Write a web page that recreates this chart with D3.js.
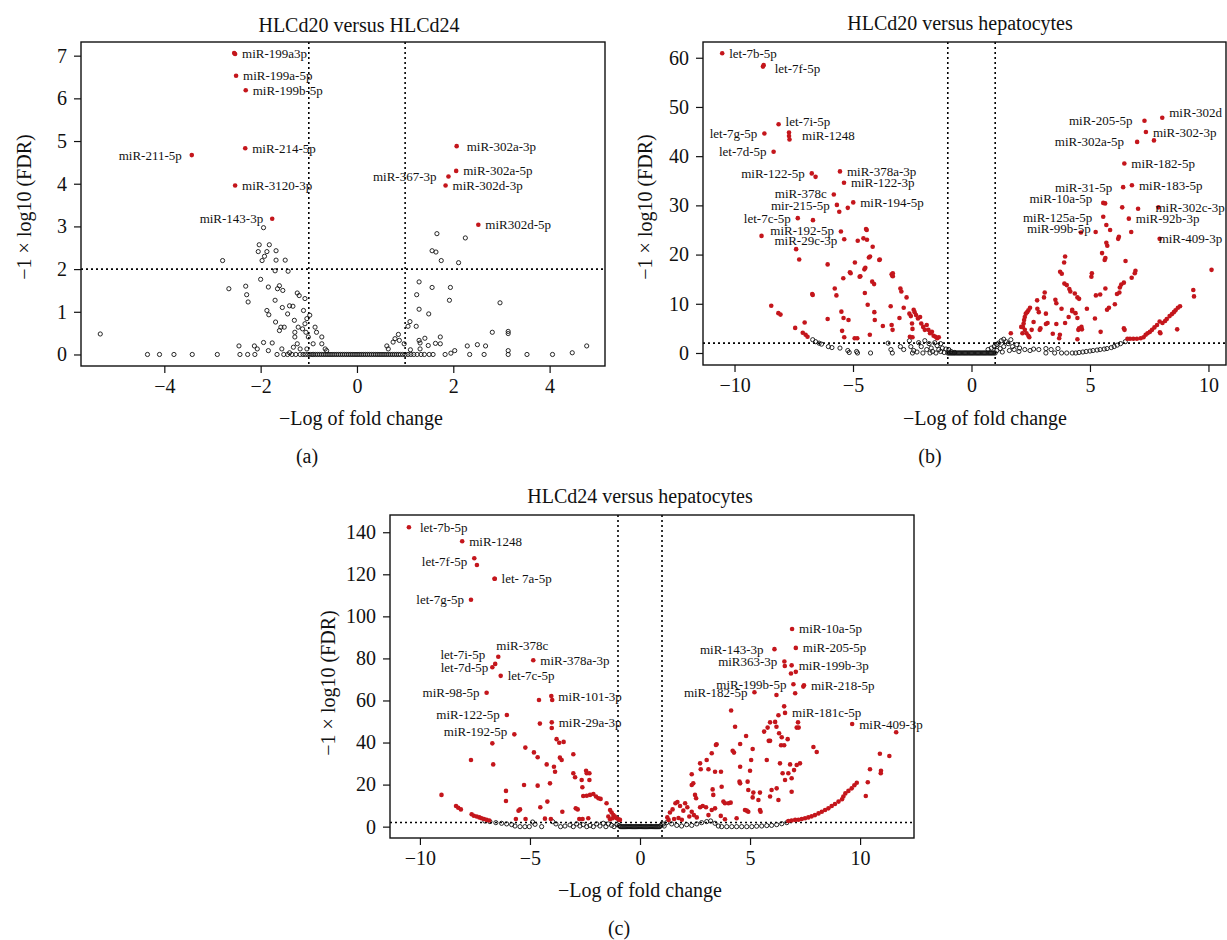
<!DOCTYPE html>
<html>
<head>
<meta charset="utf-8">
<script src="https://cdnjs.cloudflare.com/ajax/libs/d3/7.8.5/d3.min.js"></script>
<style>
  body { margin: 0; background: #fff; }
  text { font-family: "Liberation Serif", "DejaVu Serif", serif; fill: #111; }
</style>
</head>
<body>
<div id="chart"></div>
<script>
// TITLES / TEXT
var titles = ["HLCd20 versus HLCd24", "HLCd20 versus hepatocytes", "HLCd24 versus hepatocytes"];
var tags = ["(a)", "(b)", "(c)"];
var xTitle = "\u2212Log of fold change";
var yTitle = "\u22121 \u00d7 log10 (FDR)";

// TICKS
var aXTicks = [-4, -2, 0, 2, 4];
var aYTicks = [0, 1, 2, 3, 4, 5, 6, 7];
var bXTicks = [-10, -5, 0, 5, 10];
var bYTicks = [0, 10, 20, 30, 40, 50, 60];
var cXTicks = [-10, -5, 0, 5, 10];
var cYTicks = [0, 20, 40, 60, 80, 100, 120, 140];

// CUTOFFS (fold change +-1, FDR line at 2)
var fcCut = [-1, 1];
var fdrCut = 2;

// ---------- PANEL A : HLCd20 vs HLCd24 ----------
var aLabels = [
  ["miR-199a3p", -2.53, 7.04], ["miR-199a-5p", -2.51, 6.53], ["miR-199b-5p", -2.31, 6.19],
  ["miR-214-5p", -2.32, 4.83], ["miR-211-5p", -3.43, 4.67], ["miR-3120-3p", -2.53, 3.96],
  ["miR-143-3p", -1.76, 3.18], ["miR-302a-3p", 2.07, 4.88], ["miR-302a-5p", 2.06, 4.30],
  ["miR-367-3p", 1.90, 4.17], ["miR-302d-3p", 1.84, 3.96], ["miR302d-5p", 2.52, 3.04]
];
var aLeft = ["miR-211-5p", "miR-143-3p", "miR-367-3p"];
var aSig = [[-2.55, 7.06]];
var aNs = [
  [-5.33, 0.48], [-4.35, 0], [-4.10, 0], [-3.80, 0], [-3.42, 0], [-2.90, 0], [-2.79, 2.20],
  [-2.66, 1.54], [-2.45, 0.20], [-2.43, 0], [-2.31, 1.60], [-2.29, 1.40], [-2.26, 1.23],
  [-2.27, 0], [-2.13, 0.20], [-2.07, 0.13], [-2.12, 0], [-2.03, 2.57], [-2.05, 2.41],
  [-2.00, 1.76], [-1.97, 2.20], [-1.94, 2.97], [-1.92, 2.30], [-1.87, 2.41], [-1.82, 2.57],
  [-1.68, 2.43], [-1.68, 2.21], [-1.49, 2.21], [-1.43, 1.95], [-1.70, 1.96], [-1.84, 1.58],
  [-1.87, 1.03], [-1.83, 0.93], [-1.94, 0.28], [-1.84, 0.09], [-1.76, 0.27], [-1.70, 1.27],
  [-1.69, 0.76], [-1.65, 1.54], [-1.61, 1.61], [-1.54, 1.50], [-1.55, 1.10], [-1.61, 0.56],
  [-1.58, 0.64], [-1.51, 0.64], [-1.44, 0.95], [-1.40, 1.14], [-1.33, 1.13], [-1.24, 1.44],
  [-1.20, 1.38], [-1.08, 1.31], [-1.30, 0.80], [-1.22, 0.64], [-1.29, 0.52], [-1.29, 0.41],
  [-1.24, 0.25], [-1.11, 1.03], [-1.04, 0.84], [-1.08, 0.72], [-1.13, 0.60], [-1.06, 0.52],
  [-1.01, 0.41], [-0.98, 0.92], [-0.87, 0.64], [-0.84, 0.52], [-0.73, 0.41], [-0.73, 0.25],
  [-0.66, 0.13], [-0.63, 0.09], [-0.91, 0.25], [-1.04, 0.13], [-1.18, 0.13], [-1.32, 0.17],
  [-1.40, 0.04], [-1.56, 0.13], [-1.66, 0], [-1.52, 0], [-1.44, 0], [-1.35, 0], [-1.27, 0],
  [1.66, 2.83], [2.25, 2.73], [1.56, 2.43], [1.64, 2.40], [1.75, 2.20], [2.11, 2.15],
  [1.29, 1.70], [1.56, 1.57], [1.94, 1.57], [1.24, 1.40], [1.92, 1.27], [2.97, 1.21],
  [1.29, 1.06], [1.49, 0.95], [1.10, 0.77], [1.06, 0.66], [1.23, 0.66], [2.81, 0.52],
  [3.14, 0.54], [3.14, 0.49], [0.86, 0.47], [0.79, 0.37], [0.75, 0.29], [0.62, 0.20],
  [0.65, 0.13], [0.88, 0.33], [0.98, 0.25], [1.29, 0.33], [1.41, 0.38], [1.31, 0.27],
  [1.63, 0.26], [1.73, 0.41], [1.73, 0.25], [1.48, 0.21], [1.31, 0.13], [1.11, 0.11],
  [2.03, 0.09], [2.29, 0.20], [2.50, 0.23], [2.67, 0.20], [3.14, 0.09], [3.53, 0],
  [4.06, 0], [4.47, 0.04], [4.77, 0.20], [1.83, 0], [1.95, 0.03], [2.34, 0], [2.64, 0], [3.14, 0]
];
var aZero = [-1.18, -1.12, -1.07, -1.02, -0.97, -0.93, -0.9, -0.86, -0.82, -0.78, -0.74, -0.7,
  -0.66, -0.62, -0.58, -0.54, -0.5, -0.46, -0.42, -0.38, -0.34, -0.3, -0.26, -0.22, -0.18,
  -0.14, -0.1, -0.06, -0.02, 0.02, 0.06, 0.1, 0.14, 0.18, 0.22, 0.26, 0.3, 0.34, 0.38, 0.42,
  0.46, 0.5, 0.54, 0.58, 0.62, 0.66, 0.7, 0.74, 0.78, 0.82, 0.86, 0.9, 0.95, 1.0, 1.06, 1.12,
  1.18, 1.25, 1.33, 1.4, 1.5, 1.58];

// ---------- PANEL B : HLCd20 vs hepatocytes ----------
var bLabels = [
  ["let-7b-5p", -10.52, 60.9], ["let-7f-5p", -8.77, 58.5], ["let-7i-5p", -8.14, 46.5],
  ["let-7g-5p", -8.74, 44.6], ["miR-1248", -7.70, 44.1], ["let-7d-5p", -8.35, 40.9],
  ["miR-122-5p", -6.74, 36.5], ["miR-378a-3p", -5.55, 36.9], ["miR-122-3p", -5.38, 34.6],
  ["miR-378c", -5.81, 32.2], ["mir-215-5p", -5.68, 30.1], ["miR-194-5p", -4.99, 30.6],
  ["let-7c-5p", -7.33, 27.4], ["miR-192-5p", -5.51, 24.7], ["miR-29c-3p", -5.37, 23.1],
  ["miR-302d", 8.05, 47.8], ["miR-205-5p", 7.30, 47.2], ["miR-302-3p", 7.36, 44.9],
  ["miR-302a-5p", 6.99, 42.9], ["miR-182-5p", 6.45, 38.5], ["miR-31-5p", 6.40, 33.7],
  ["miR-183-5p", 6.77, 34.1], ["miR-10a-5p", 5.56, 30.5], ["miR-302c-3p", 7.89, 29.6],
  ["miR-125a-5p", 5.56, 27.7], ["miR-92b-3p", 6.64, 27.3], ["miR-99b-5p", 5.24, 24.6],
  ["miR-409-3p", 7.94, 23.2]
];
var bLeft = ["let-7g-5p", "let-7d-5p", "miR-122-5p", "miR-378c", "mir-215-5p", "let-7c-5p",
  "miR-192-5p", "miR-29c-3p", "miR-205-5p", "miR-302a-5p", "miR-31-5p", "miR-10a-5p",
  "miR-125a-5p", "miR-99b-5p"];
var bSig = [
  [-8.80, 58.2], [-7.70, 44.8], [-7.68, 43.4], [-6.58, 35.8], [-5.58, 28.7], [-5.22, 29.5],
  [-6.69, 27.0], [-8.86, 23.8], [-4.45, 25.2], [-4.42, 25.0], [-4.80, 22.8], [-4.56, 23.3],
  [-4.41, 23.0], [-4.17, 21.6], [-7.40, 21.1], [-7.27, 19.0], [-6.07, 18.0], [-4.92, 18.4],
  [-4.28, 19.6], [-3.87, 19.0], [-5.13, 16.4], [-5.10, 16.2], [-4.52, 17.0], [-4.48, 17.3],
  [-4.69, 15.6], [-5.41, 15.2], [-3.32, 16.2], [-3.32, 15.6],
  [-8.45, 9.6], [-8.15, 8.1], [-8.06, 7.8], [-7.44, 5.1], [-7.12, 4.1], [-7.0, 3.7],
  [-6.92, 3.3], [-6.70, 11.8], [-6.72, 12.0], [-7.04, 6.2], [-5.77, 13.1], [-5.70, 11.7],
  [-6.07, 6.9], [-5.19, 6.7], [-5.46, 4.5], [-5.37, 3.2], [-4.93, 3.0], [-4.82, 3.0],
  [-4.72, 15.5], [-4.50, 12.2], [-4.38, 9.8], [-4.33, 19.4], [-4.29, 3.7], [-4.19, 14.5],
  [-4.11, 14.0], [-4.10, 8.3], [-4.08, 6.7], [-3.89, 18.9], [-3.74, 5.5], [-3.37, 16.0],
  [-3.34, 15.7], [-3.41, 9.5], [-3.37, 5.7], [-3.33, 4.7], [-3.04, 7.1], [-3.00, 13.1],
  [-2.96, 12.5], [-2.74, 11.3], [-2.86, 9.2], [-2.62, 8.0], [-2.56, 7.5], [-2.51, 6.0],
  [-2.49, 4.9], [-2.44, 8.8], [-2.40, 8.3], [-2.34, 7.7], [-2.26, 7.0], [-2.17, 7.3],
  [-2.12, 6.0], [-2.04, 5.3], [-1.97, 4.7], [-1.89, 5.7], [-1.82, 4.7], [-1.75, 4.0],
  [-1.67, 4.3], [-1.60, 3.5], [-1.52, 3.3], [-1.45, 3.0], [-1.38, 3.2], [-2.60, 3.3],
  [-2.49, 3.2], [-5.49, 8.4], [-5.40, 7.1],
  [7.70, 43.2], [5.64, 30.4], [6.36, 29.6], [7.03, 29.3], [5.69, 26.0], [5.85, 25.0],
  [4.62, 24.5], [6.74, 24.6], [6.22, 23.6], [6.19, 23.2], [5.69, 22.4], [5.73, 21.8],
  [10.13, 16.9], [3.95, 19.6], [3.91, 18.4], [5.51, 20.3], [5.62, 18.9], [6.50, 18.7],
  [3.74, 16.5], [3.81, 16.1], [5.08, 16.2], [5.06, 15.5], [6.92, 16.7], [6.89, 16.2],
  [9.39, 11.5], [9.36, 12.8], [8.68, 4.8],
  [8.80, 9.5], [8.71, 9.2], [8.61, 8.7], [8.54, 8.3], [8.46, 7.9], [8.36, 7.5], [8.24, 6.9],
  [8.17, 6.5], [8.06, 6.1], [7.94, 6.4], [7.95, 4.2], [7.97, 4.0], [7.83, 5.7], [7.72, 5.2],
  [7.62, 4.7], [7.53, 4.3], [7.43, 4.0], [7.35, 3.7], [7.26, 3.2], [7.14, 3.0], [6.98, 2.9],
  [6.83, 2.9], [6.69, 2.9], [6.58, 2.9],
  [6.76, 15.3], [6.43, 14.3], [6.32, 13.9], [6.26, 13.3], [6.24, 12.3], [6.14, 12.0],
  [5.65, 19.3], [5.43, 11.9], [5.25, 11.7], [5.65, 13.1], [5.72, 8.8], [5.80, 9.2],
  [6.05, 9.9], [6.43, 5.0], [6.46, 4.7], [5.45, 4.3], [5.21, 7.0], [4.87, 9.0], [4.66, 4.8],
  [4.64, 5.3], [4.54, 5.0], [4.51, 4.7], [4.47, 2.8], [3.92, 14.1], [4.02, 13.8], [4.13, 13.0],
  [4.17, 12.5], [4.36, 12.1], [4.47, 11.3], [4.54, 11.0], [4.25, 8.8], [4.25, 8.5], [4.39, 8.1],
  [4.47, 7.1], [4.10, 7.3], [3.80, 9.0], [3.95, 6.1], [3.58, 10.1], [3.54, 10.8], [3.09, 12.3],
  [3.06, 11.3], [2.77, 10.7], [2.78, 9.0], [2.84, 8.3], [3.14, 8.0], [3.21, 6.1], [3.14, 5.9],
  [3.58, 5.9], [3.43, 3.9], [3.73, 3.7], [3.70, 3.0],
  [2.47, 9.2], [2.40, 8.7], [2.35, 8.3], [2.29, 8.0], [2.25, 7.3], [2.22, 6.7], [2.20, 6.0],
  [2.17, 5.3], [2.25, 4.7], [2.32, 4.0], [2.40, 3.5], [2.44, 3.2], [2.62, 6.3], [2.54, 4.7],
  [2.10, 5.3], [2.15, 4.0], [1.66, 4.0], [2.91, 5.0], [2.88, 4.7]
];
var bNs = [
  [-6.70, 2.7], [-6.58, 2.3], [-6.43, 2.0], [-6.33, 1.8], [-6.04, 1.3], [-5.89, 1.1],
  [-5.55, 1.0], [-5.22, 0.5], [-5.16, 0.1], [-4.85, 0.3], [-4.81, 0], [-4.26, 0],
  [-3.52, 2.0], [-3.40, 0.7], [-3.34, 0], [-3.00, 1.3], [-2.86, 0.7], [-2.62, 2.5],
  [-2.56, 1.3], [-2.44, 0.5], [-2.49, 0], [-2.23, 2.1], [-2.12, 1.3], [-1.97, 2.5],
  [-1.89, 0.7], [-1.79, 1.9], [-1.70, 1.0], [-1.64, 0.3], [-1.55, 2.1], [-1.45, 1.5],
  [-1.38, 0.7], [-1.30, 1.9], [-1.23, 1.0], [-1.15, 0.1], [-1.08, 0.8], [-0.96, 0.7],
  [-0.86, 0.3], [-0.71, 0.1], [-2.05, 0], [-1.75, 0], [-1.5, 0], [-1.3, 0.3], [-2.3, 0.2],
  [0.70, 0.7], [0.84, 1.0], [0.96, 1.3], [1.07, 1.7], [1.14, 2.0], [1.26, 2.5], [1.36, 2.8],
  [1.46, 2.3], [1.55, 1.9], [1.36, 1.3], [1.21, 0.9], [1.07, 0.5], [1.66, 2.7], [1.73, 1.3],
  [1.80, 0.7], [1.91, 1.7], [2.03, 1.0], [2.25, 0.7], [2.47, 0.5], [2.62, 0.8], [2.84, 0.7],
  [3.14, 0.9], [3.36, 0.7], [3.65, 0.9], [3.14, 0], [3.51, 0], [3.80, 0], [4.02, 0],
  [4.25, 0], [4.54, 0.1], [4.84, 0.3], [5.13, 0.5], [5.43, 0.7], [5.72, 0.9], [6.02, 1.3],
  [6.29, 1.9], [6.49, 2.3], [4.4, 0], [4.7, 0.2], [5.0, 0.4], [5.3, 0.6], [5.6, 0.8],
  [5.9, 1.1], [6.15, 1.6], [1.3, 0.2], [1.6, 0.5], [2.0, 0.3]
];
var bZero = [-1.0, -0.95, -0.9, -0.85, -0.8, -0.75, -0.7, -0.65, -0.6, -0.55, -0.5, -0.45,
  -0.4, -0.35, -0.3, -0.25, -0.2, -0.15, -0.1, -0.05, 0, 0.05, 0.1, 0.15, 0.2, 0.25, 0.3,
  0.35, 0.4, 0.45, 0.5, 0.55, 0.6, 0.65, 0.7, 0.75, 0.8, 0.85, 0.9, 0.95, 1.0];

// ---------- PANEL C : HLCd24 vs hepatocytes ----------
var cLabels = [
  ["let-7b-5p", -10.5, 142.4], ["miR-1248", -8.08, 135.7], ["let-7f-5p", -7.53, 127.6],
  ["let- 7a-5p", -6.61, 117.9], ["let-7g-5p", -7.68, 107.9], ["miR-378c", -6.44, 80.8],
  ["let-7i-5p", -6.58, 77.4], ["let-7d-5p", -6.71, 75.8], ["miR-378a-3p", -4.85, 79.1],
  ["let-7c-5p", -6.33, 71.7], ["miR-98-5p", -6.97, 63.7], ["miR-101-3p", -4.03, 62.1],
  ["miR-122-5p", -6.05, 53.1], ["miR-29a-3p", -4.01, 49.6], ["miR-192-5p", -5.71, 43.9],
  ["miR-10a-5p", 6.91, 94.0], ["miR-143-3p", 6.11, 84.4], ["miR-205-5p", 7.08, 85.0],
  ["miR363-3p", 6.56, 78.5], ["miR-199b-3p", 6.89, 76.7], ["miR-199b-5p", 6.97, 67.7],
  ["miR-218-5p", 7.45, 67.2], ["miR-182-5p", 5.20, 63.9], ["miR-181c-5p", 6.59, 54.1],
  ["miR-409-3p", 9.64, 48.8]
];
var cLeft = ["let-7f-5p", "let-7g-5p", "let-7i-5p", "let-7d-5p", "miR-98-5p", "miR-122-5p",
  "miR-192-5p", "miR-143-3p", "miR363-3p", "miR-199b-5p", "miR-182-5p"];
var cSig = [
  [-7.41, 124.4], [-6.60, 117.9], [-3.99, 60.2], [-4.59, 60.2], [-4.01, 46.9], [-4.55, 49.0],
  [-6.71, 39.6], [-5.21, 37.6], [-3.79, 41.6], [-3.67, 39.9], [-3.47, 40.3],
  [-9.02, 15.1], [-8.36, 9.8], [-8.26, 9.0], [-8.14, 8.2], [-7.68, 31.7], [-7.65, 5.9],
  [-7.55, 5.2], [-7.42, 4.8], [-7.30, 4.4], [-7.20, 4.0], [-7.09, 3.6], [-6.97, 3.2],
  [-6.85, 2.9], [-6.67, 29.6], [-6.09, 17.0], [-6.09, 12.2], [-5.64, 3.6], [-5.45, 8.2],
  [-5.52, 7.6], [-5.27, 19.8], [-5.20, 3.6], [-4.82, 35.3], [-4.65, 33.0], [-4.65, 19.5],
  [-4.53, 9.2], [-4.32, 3.8], [-4.24, 29.6], [-4.21, 11.9], [-4.09, 20.6], [-4.05, 3.6],
  [-3.91, 28.5], [-3.86, 26.1], [-3.64, 32.8], [-3.56, 31.7], [-3.53, 7.1], [-3.03, 34.4],
  [-3.03, 25.4], [-2.95, 23.5], [-2.92, 8.7], [-2.83, 8.2], [-2.65, 22.2], [-2.62, 18.7],
  [-2.45, 26.6], [-2.42, 25.4], [-2.30, 25.4], [-2.30, 22.2], [-2.58, 14.6], [-2.42, 14.7],
  [-2.27, 15.1], [-2.12, 15.5], [-2.0, 14.3], [-1.89, 13.5], [-1.79, 13.2], [-2.76, 3.6],
  [-2.61, 3.6], [-2.35, 4.0], [-1.52, 11.1], [-1.36, 7.9], [-1.29, 6.7], [-1.21, 5.5],
  [-1.14, 4.8], [-1.06, 4.0], [-0.98, 3.5], [-0.91, 3.2], [-1.44, 4.8], [-1.36, 3.5],
  [-1.24, 4.0],
  [6.58, 76.4], [6.86, 72.8], [7.08, 73.6], [7.42, 66.6], [6.20, 62.6], [7.05, 63.4],
  [4.14, 55.2], [6.55, 57.2], [6.29, 53.0], [11.64, 44.9], [7.18, 49.6], [7.12, 47.1],
  [7.21, 47.1], [4.32, 47.5], [5.91, 49.6], [5.80, 47.1], [6.14, 49.8], [6.20, 47.5],
  [4.82, 43.1], [5.64, 45.2], [5.85, 40.8], [5.91, 40.8], [6.32, 44.4], [6.44, 42.5],
  [6.71, 41.6], [6.41, 38.7], [6.55, 38.7], [4.55, 39.3], [3.48, 39.2], [5.12, 36.9],
  [4.21, 36.1], [4.27, 35.2], [7.88, 37.9], [8.03, 35.5], [10.9, 34.7], [11.33, 33.6],
  [3.45, 38.8],
  [2.35, 24.9], [2.35, 19.8], [2.42, 20.6], [2.50, 15.1], [2.55, 13.5], [2.73, 30.1],
  [2.76, 27.3], [3.03, 31.7], [3.11, 27.3], [3.26, 34.9], [3.30, 17.7], [3.33, 15.1],
  [3.41, 26.1], [3.68, 26.1], [3.71, 19.0], [3.79, 11.9], [3.86, 11.1], [4.55, 28.5],
  [4.52, 21.4], [4.55, 20.6], [4.89, 21.4], [4.92, 17.4], [5.0, 26.6], [5.05, 31.7],
  [5.12, 13.9], [5.15, 16.2], [5.38, 12.7], [5.45, 16.2], [5.76, 31.7], [5.91, 14.3],
  [5.98, 17.4], [6.21, 18.2], [6.29, 12.7], [6.36, 30.1], [6.48, 25.4], [6.59, 22.2],
  [6.74, 25.4], [6.89, 23.0], [7.0, 26.9], [7.12, 29.3], [7.27, 30.1], [6.89, 16.6],
  [6.82, 29.6], [10.45, 27.3], [10.94, 25.4], [10.95, 26.6], [10.26, 14.6], [10.35, 21.1],
  [9.85, 20.9], [9.74, 19.7], [9.62, 18.2], [9.47, 17.0], [9.33, 15.8], [9.24, 14.3],
  [9.18, 13.0], [9.02, 11.9], [8.86, 10.8], [8.71, 9.8], [8.56, 8.7], [8.41, 7.9], [8.26, 7.1],
  [8.11, 6.3], [7.95, 5.5], [7.80, 4.9], [7.65, 4.4], [7.50, 4.0], [7.35, 3.6], [7.20, 3.3],
  [7.05, 3.2], [6.89, 2.9], [6.74, 2.7],
  [1.24, 4.4], [1.36, 6.7], [1.48, 8.2], [1.61, 11.1], [1.70, 11.7], [1.82, 9.8], [1.97, 7.6],
  [2.05, 11.1], [2.15, 9.2], [2.24, 4.8], [2.35, 7.1], [2.45, 5.5], [2.58, 4.4], [2.73, 9.2],
  [2.85, 9.8], [3.0, 9.2], [3.11, 5.5], [3.26, 7.9], [3.41, 8.7], [3.67, 5.1], [3.86, 3.5],
  [4.02, 11.1], [4.12, 11.4], [4.39, 4.0], [4.77, 7.9], [4.85, 7.6], [4.92, 7.1], [5.45, 7.9],
  [5.48, 7.1], [1.3, 3.2], [1.55, 3.6], [1.75, 4.1], [1.9, 3.3]
];
var cNs = [
  [-7.05, 2.7], [-6.82, 2.4], [-6.55, 1.9], [-6.29, 1.6], [-6.06, 1.3], [-5.83, 0.95],
  [-5.68, 0.3], [-5.45, 0], [-5.23, 0], [-5.03, 0], [-4.88, 2.2], [-4.77, 1.1], [-4.47, 0],
  [-3.97, 2.4], [-3.82, 1.3], [-3.61, 0], [-3.41, 0.3], [-3.18, 0.8], [-3.03, 0], [-2.88, 1.3],
  [-2.73, 0.3], [-2.58, 0.95], [-2.42, 0], [-2.27, 0.6], [-2.12, 0], [-1.97, 1.3], [-1.82, 0.3],
  [-1.67, 1.6], [-1.55, 0], [-1.44, 1.3], [-1.29, 0.6], [-1.18, 0], [-1.05, 1.0], [-0.95, 0.5],
  [1.21, 1.9], [1.44, 1.3], [1.67, 0.6], [1.89, 0.3], [2.12, 0.95], [2.35, 0.6], [2.58, 1.3],
  [2.80, 1.9], [3.03, 2.4], [3.21, 2.7], [3.41, 1.6], [3.56, 0.3], [3.71, 0], [3.94, 0],
  [4.17, 0], [4.39, 0], [4.62, 0], [4.85, 0], [5.08, 0], [5.30, 0.2], [5.53, 0.3], [5.76, 0.5],
  [5.98, 0.6], [6.21, 0.95], [6.44, 1.4], [6.67, 1.9], [1.05, 1.2], [0.95, 0.6], [1.1, 0.3]
];
var cZero = [-0.9, -0.85, -0.8, -0.75, -0.7, -0.65, -0.6, -0.55, -0.5, -0.45, -0.4, -0.35,
  -0.3, -0.25, -0.2, -0.15, -0.1, -0.05, 0, 0.05, 0.1, 0.15, 0.2, 0.25, 0.3, 0.35, 0.4, 0.45,
  0.5, 0.55, 0.6, 0.65, 0.7, 0.75, 0.8, 0.85, 0.9];

// LABEL NUDGES (pixels) for labels that sit off the default spot
var nudge = {
  "a:miR-211-5p": [-3, 0], "a:miR-367-3p": [-5, 0], "a:miR-143-3p": [-2, 0], "a:miR-302a-3p": [3, 0],
  "b:let-7f-5p": [4, 3], "b:let-7i-5p": [0, -3], "b:miR-1248": [6, 0], "b:miR-302d": [0, -5],
  "b:miR-205-5p": [-5, 0], "b:miR-302a-5p": [-6, 0], "b:miR-31-5p": [-4, 0], "b:miR-10a-5p": [-4, -4],
  "b:miR-125a-5p": [-4, 1], "b:miR-99b-5p": [2, -3], "b:miR-302c-3p": [-10, 0], "b:miR-409-3p": [-8, 0],
  "b:miR-378c": [0, -1], "b:mir-215-5p": [0, 1], "b:miR-192-5p": [0, -1], "b:miR-29c-3p": [0, 1],
  "c:let-7b-5p": [4, 0], "c:let-7f-5p": [0, 3], "c:miR-378c": [-9, -11], "c:let-7i-5p": [-3, -9],
  "c:let-7d-5p": [3, 0], "c:miR-192-5p": [0, -3], "c:miR-143-3p": [-4, 0]
};

var RED = "#c4161c";
var svg = d3.select("#chart").append("svg").attr("width", 1227).attr("height", 940);

// PANEL LAYOUT
var panels = [
  { key: "a", sig: aSig, ns: aNs, zero: aZero, labels: aLabels, left: aLeft,
    box: [81, 42, 605, 366], xDom: [-5.73, 5.15], yDom: [-0.27, 7.32], xt: aXTicks, yt: aYTicks,
    title: titles[0], tag: tags[0], titleX: 359, titleY: 32, xLabX: 361, xLabY: 425,
    tagX: 307, tagY: 463, yLabX: 24, yLabY: 207 },
  { key: "b", sig: bSig, ns: bNs, zero: bZero, labels: bLabels, left: bLeft,
    box: [703, 42, 1226, 365], xDom: [-11.33, 10.74], yDom: [-2.44, 63.2], xt: bXTicks, yt: bYTicks,
    title: titles[1], tag: tags[1], titleX: 960, titleY: 30, xLabX: 985, xLabY: 425,
    tagX: 930, tagY: 463, yLabX: 645, yLabY: 207 },
  { key: "c", sig: cSig, ns: cNs, zero: cZero, labels: cLabels, left: cLeft,
    box: [390, 515, 914, 838], xDom: [-11.36, 12.45], yDom: [-5.4, 148.2], xt: cXTicks, yt: cYTicks,
    title: titles[2], tag: tags[2], titleX: 640, titleY: 503, xLabX: 640, xLabY: 897,
    tagX: 619, tagY: 935, yLabX: 328, yLabY: 683 }
];

panels.forEach(drawPanel);

function drawPanel(p) {
  var x0 = p.box[0], y0 = p.box[1], x1 = p.box[2], y1 = p.box[3];
  var x = d3.scaleLinear().domain(p.xDom).range([x0, x1]);
  var y = d3.scaleLinear().domain(p.yDom).range([y1, y0]);
  var g = svg.append("g");

  // AXES
  var xa = g.append("g").attr("transform", "translate(0," + y1 + ")")
    .call(d3.axisBottom(x).tickValues(p.xt).tickSize(7).tickPadding(6));
  var ya = g.append("g").attr("transform", "translate(" + x0 + ",0)")
    .call(d3.axisLeft(y).tickValues(p.yt).tickSize(7).tickPadding(7));
  [xa, ya].forEach(function(a) {
    a.select(".domain").remove();
    a.selectAll("line").attr("stroke", "#111").attr("stroke-width", 1.2);
    a.selectAll("text").style("font-size", "20px").style("font-family", "Liberation Serif, serif").attr("fill", "#111");
  });

  // NON-SIGNIFICANT (open) POINTS
  var ns = p.ns.concat(p.zero.map(function(v) { return [v, 0]; }));
  g.append("g").selectAll("circle").data(ns).enter().append("circle")
    .attr("cx", function(d) { return x(d[0]); })
    .attr("cy", function(d) { return y(d[1]); })
    .attr("r", 2.1).attr("fill", "none").attr("stroke", "#111").attr("stroke-width", 0.9);

  // CUTOFF LINES
  fcCut.forEach(function(v) {
    g.append("line").attr("x1", x(v)).attr("x2", x(v)).attr("y1", y0).attr("y2", y1)
      .attr("stroke", "#000").attr("stroke-width", 1.6).attr("stroke-dasharray", "2,3");
  });
  g.append("line").attr("x1", x0).attr("x2", x1).attr("y1", y(fdrCut)).attr("y2", y(fdrCut))
    .attr("stroke", "#000").attr("stroke-width", 1.6).attr("stroke-dasharray", "2,3");

  // SIGNIFICANT (red) POINTS
  var sig = p.sig.concat(p.labels.map(function(d) { return [d[1], d[2]]; }));
  g.append("g").selectAll("circle").data(sig).enter().append("circle")
    .attr("cx", function(d) { return x(d[0]); })
    .attr("cy", function(d) { return y(d[1]); })
    .attr("r", 2.3).attr("fill", RED);

  // POINT LABELS
  g.append("g").selectAll("text").data(p.labels).enter().append("text")
    .attr("x", function(d) {
      var n = nudge[p.key + ":" + d[0]] || [0, 0];
      var left = p.left.indexOf(d[0]) >= 0;
      return x(d[1]) + (left ? -7 : 7) + n[0];
    })
    .attr("y", function(d) {
      var n = nudge[p.key + ":" + d[0]] || [0, 0];
      return y(d[2]) + 4.5 + n[1];
    })
    .attr("text-anchor", function(d) { return p.left.indexOf(d[0]) >= 0 ? "end" : "start"; })
    .style("font-size", "13px")
    .text(function(d) { return d[0]; });

  // BOX
  g.append("rect").attr("x", x0).attr("y", y0).attr("width", x1 - x0).attr("height", y1 - y0)
    .attr("fill", "none").attr("stroke", "#111").attr("stroke-width", 1.4);

  // TITLES
  g.append("text").attr("x", p.titleX).attr("y", p.titleY).attr("text-anchor", "middle")
    .style("font-size", "20px").text(p.title);
  g.append("text").attr("x", p.xLabX).attr("y", p.xLabY).attr("text-anchor", "middle")
    .style("font-size", "20px").text(xTitle);
  g.append("text").attr("x", p.tagX).attr("y", p.tagY).attr("text-anchor", "middle")
    .style("font-size", "20px").text(p.tag);
  g.append("text").attr("transform", "translate(" + (p.yLabX + 7) + "," + p.yLabY + ") rotate(-90)")
    .attr("text-anchor", "middle").style("font-size", "20px").text(yTitle);
}
</script>
</body>
</html>
